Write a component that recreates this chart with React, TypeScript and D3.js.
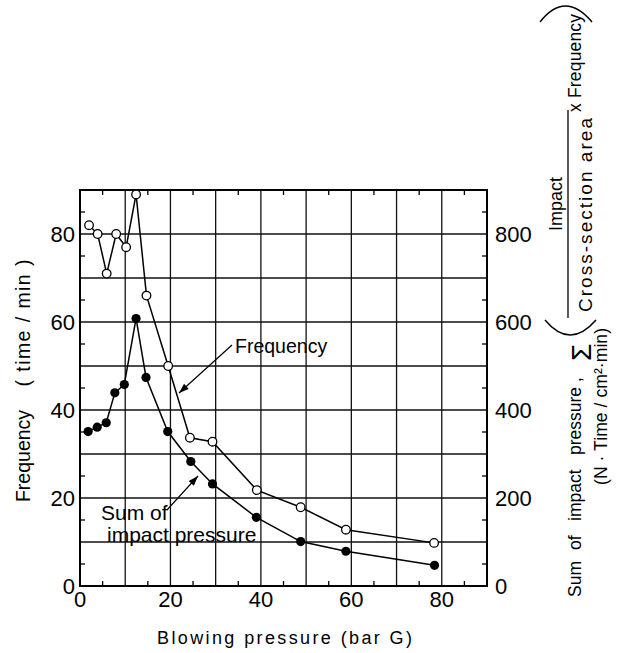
import React from 'react';
import * as d3 from 'd3';

// Frequency (open circles, left axis, time/min)
const freqPressure = [2, 3.9, 5.9, 8, 10.2, 12.4, 14.7, 19.5, 24.3, 29.3, 39.1, 48.8, 58.8, 78.3];
const frequency = [82, 80, 71, 80, 77, 89, 66, 50, 33.7, 32.8, 21.8, 17.9, 12.8, 9.8];

// Sum of impact pressure (filled circles, right axis, N·Time/cm²·min)
const impactPressure = [1.8, 3.8, 5.8, 7.7, 9.8, 12.4, 14.6, 19.4, 24.5, 29.3, 39, 48.8, 58.8, 78.4];
const impactSum = [351, 361, 371, 439, 458, 608, 474, 351, 283, 232, 156, 101, 79, 47];

const xTickLabels = [0, 20, 40, 60, 80];
const leftTickLabels = [0, 20, 40, 60, 80];
const rightTickLabels = [0, 200, 400, 600, 800];
const gridValues = [10, 20, 30, 40, 50, 60, 70, 80];
const minorValues = [5, 15, 25, 35, 45, 55, 65, 75, 85];

const FONT = '"Liberation Sans", Arial, Helvetica, sans-serif';

export default function App() {
  const W = 623, H = 653;
  const x = d3.scaleLinear().domain([0, 90]).range([80, 487]);
  const y = d3.scaleLinear().domain([0, 90]).range([586, 190]);
  const yR = d3.scaleLinear().domain([0, 900]).range([586, 190]);

  const freqPts: [number, number][] = freqPressure.map((p, i) => [x(p), y(frequency[i])]);
  const impPts: [number, number][] = impactPressure.map((p, i) => [x(p), yR(impactSum[i])]);
  const line = d3.line();

  const [x0, x1] = x.range();
  const [yb, yt] = y.range();
  const tick = 5;

  return (
    <svg width={W} height={H} style={{ position: 'absolute', left: 0, top: 0, background: '#fff' }} fontFamily={FONT}>
      <defs>
        <marker id="ah" viewBox="0 0 10 7" refX="10" refY="3.5" markerWidth="11" markerHeight="7" markerUnits="userSpaceOnUse" orient="auto">
          <path d="M0,0 L10,3.5 L0,7 z" fill="#000" />
        </marker>
      </defs>
      <rect x={0} y={0} width={W} height={H} fill="#fff" />

      {/* grid */}
      {gridValues.map(v => (
        <line key={'gx' + v} x1={x(v)} x2={x(v)} y1={yb} y2={yt} stroke="#111" strokeWidth={1.3} />
      ))}
      {gridValues.map(v => (
        <line key={'gy' + v} x1={x0} x2={x1} y1={y(v)} y2={y(v)} stroke="#111" strokeWidth={1.3} />
      ))}
      {/* minor ticks */}
      {minorValues.map(v => (
        <g key={'m' + v}>
          <line x1={x(v)} x2={x(v)} y1={yb} y2={yb - tick} stroke="#000" strokeWidth={1.3} />
          <line x1={x(v)} x2={x(v)} y1={yt} y2={yt + tick} stroke="#000" strokeWidth={1.3} />
          <line x1={x0} x2={x0 + tick} y1={y(v)} y2={y(v)} stroke="#000" strokeWidth={1.3} />
          <line x1={x1} x2={x1 - tick} y1={y(v)} y2={y(v)} stroke="#000" strokeWidth={1.3} />
        </g>
      ))}
      {/* frame */}
      <rect x={x0} y={yt} width={x1 - x0} height={yb - yt} fill="none" stroke="#000" strokeWidth={2} />

      {/* tick labels */}
      {xTickLabels.map(v => (
        <text key={'xt' + v} x={x(v)} y={yb + 21} fontSize={22} textAnchor="middle">{v}</text>
      ))}
      {leftTickLabels.map(v => (
        <text key={'lt' + v} x={x0 - 5} y={y(v) + 8} fontSize={22} textAnchor="end">{v}</text>
      ))}
      {rightTickLabels.map(v => (
        <text key={'rt' + v} x={x1 + 8} y={yR(v) + 8} fontSize={22} textAnchor="start">{v}</text>
      ))}

      {/* series lines */}
      <path d={line(freqPts) || ''} fill="none" stroke="#000" strokeWidth={1.5} />
      <path d={line(impPts) || ''} fill="none" stroke="#000" strokeWidth={1.5} />
      {freqPts.map((p, i) => (
        <circle key={'f' + i} cx={p[0]} cy={p[1]} r={4.3} fill="#fff" stroke="#000" strokeWidth={1.3} />
      ))}
      {impPts.map((p, i) => (
        <circle key={'s' + i} cx={p[0]} cy={p[1]} r={4.6} fill="#000" />
      ))}

      {/* annotations */}
      <text x={235} y={353} fontSize={19.5}>Frequency</text>
      <line x1={232} y1={345} x2={179} y2={393} stroke="#000" strokeWidth={1.2} markerEnd="url(#ah)" />
      <text x={101} y={520} fontSize={21}>Sum of</text>
      <text x={107} y={542} fontSize={21}>impact pressure</text>
      <line x1={167} y1={510} x2={198} y2={476} stroke="#000" strokeWidth={1.2} markerEnd="url(#ah)" />

      {/* x axis title */}
      <text x={157} y={644} fontSize={18} textLength={255} lengthAdjust="spacing">Blowing  pressure  (bar G)</text>

      {/* left axis title */}
      <g transform="rotate(-90)">
        <text x={-456} y={30} fontSize={19.5} textAnchor="middle">Frequency</text>
        <text x={-323} y={30} fontSize={19.5} textAnchor="middle" textLength={127} lengthAdjust="spacing">( time / min )</text>
      </g>

      {/* right axis title */}
      <g transform="rotate(-90)">
        <text y={581} fontSize={17.5}>
          <tspan x={-597}>Sum</tspan>
          <tspan x={-550}>of</tspan>
          <tspan x={-521}>impact</tspan>
          <tspan x={-455}>pressure ,</tspan>
        </text>
        <text x={-361} y={591} fontSize={28}>Σ</text>
        <text x={-204} y={562} fontSize={18} textAnchor="middle">Impact</text>
        <text x={-215} y={592} fontSize={19} textAnchor="middle" textLength={194} lengthAdjust="spacing">Cross-section area</text>
        <text x={-112} y={581} fontSize={17.5} textLength={98} lengthAdjust="spacing">x Frequency</text>
        <text x={-485} y={607} fontSize={17.5} textLength={157} lengthAdjust="spacing">(N · Time / cm²·min)</text>
      </g>
      <line x1={568} y1={110} x2={568} y2={318} stroke="#000" strokeWidth={1.3} />
      <path d="M545,320 Q570,350 596,320" fill="none" stroke="#000" strokeWidth={1.5} />
      <path d="M540,22 Q565,-10 592,22" fill="none" stroke="#000" strokeWidth={1.5} />
    </svg>
  );
}
